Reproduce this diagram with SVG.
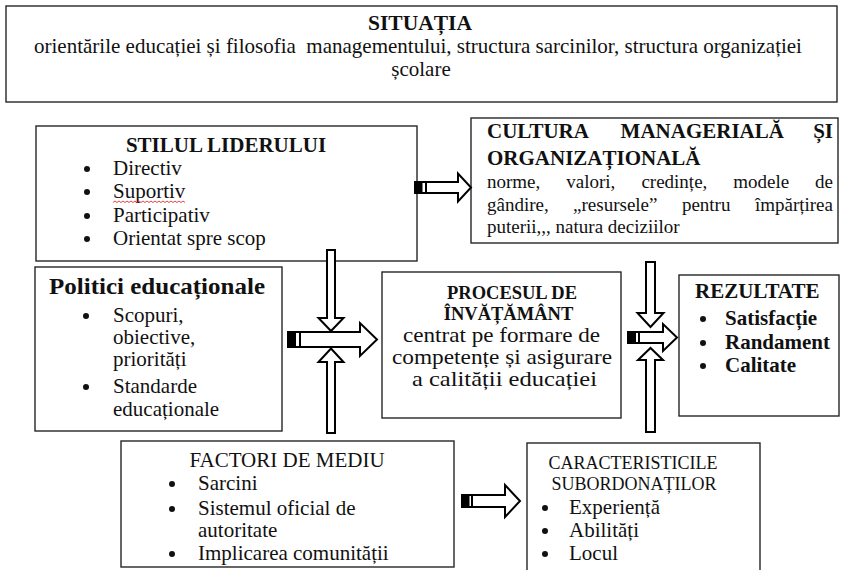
<svg xmlns="http://www.w3.org/2000/svg" width="844" height="570" viewBox="0 0 844 570">
<style>
.box{fill:#fff;stroke:#262626;stroke-width:1.4}
.arr{fill:#fff;stroke:#000;stroke-width:2;stroke-linejoin:miter}
.blk{fill:#000}
text{font-family:"Liberation Serif","Times New Roman",serif;fill:#111}
.b{font-weight:bold}
.s21{font-size:21px}
.s19{font-size:19px}
.c{text-anchor:middle}
.e{text-anchor:end}
.dot{fill:#111}
</style>
<rect width="844" height="570" fill="#fff"/>

<g id="situatia">
<rect class="box" x="6" y="6" width="831" height="96"/>
<text class="b c" x="420" y="30" style="font-size:21.5px">SITUAȚIA</text>
<text class="c s21" x="418" y="53" xml:space="preserve">orientările educației și filosofia  managementului, structura sarcinilor, structura organizației</text>
<text class="c s21" x="421" y="76">școlare</text>
</g>

<g id="stilul-liderului">
<rect class="box" x="36" y="126" width="381" height="135"/>
<text class="b c s21" x="226" y="152">STILUL LIDERULUI</text>
<circle class="dot" cx="87" cy="169" r="3"/>
<text class="s21" x="113" y="175">Directiv</text>
<circle class="dot" cx="87" cy="192" r="3"/>
<text class="s21" x="113" y="198">Suportiv</text>
<path d="M113,202.5 l2,-1.5 l2,1.5 l2,-1.5 l2,1.5 l2,-1.5 l2,1.5 l2,-1.5 l2,1.5 l2,-1.5 l2,1.5 l2,-1.5 l2,1.5 l2,-1.5 l2,1.5 l2,-1.5 l2,1.5 l2,-1.5 l2,1.5 l2,-1.5 l2,1.5 l2,-1.5 l2,1.5 l2,-1.5 l2,1.5 l2,-1.5 l2,1.5 l2,-1.5 l2,1.5 l2,-1.5 l2,1.5 l2,-1.5 l2,1.5 l2,-1.5 l2,1.5 l2,-1.5 l2,1.5" fill="none" stroke="#e03030" stroke-width="0.9"/>
<circle class="dot" cx="87" cy="216" r="3"/>
<text class="s21" x="113" y="222">Participativ</text>
<circle class="dot" cx="87" cy="239" r="3"/>
<text class="s21" x="113" y="245">Orientat spre scop</text>
</g>

<g id="cultura">
<rect class="box" x="471" y="118" width="367" height="125"/>
<text class="b s21" x="487" y="138">CULTURA</text>
<text class="b s21" x="620.6" y="138">MANAGERIALĂ</text>
<text class="b s21 e" x="833" y="138">ȘI</text>
<text class="b s21" x="487" y="165">ORGANIZAȚIONALĂ</text>
<text class="s19" x="487" y="188">norme,</text>
<text class="s19" x="566.3" y="188">valori,</text>
<text class="s19" x="641.4" y="188">credințe,</text>
<text class="s19" x="733.3" y="188">modele</text>
<text class="s19 e" x="833" y="188">de</text>
<text class="s19" x="487" y="211">gândire,</text>
<text class="s19" x="573.1" y="211">„resursele”</text>
<text class="s19" x="681.9" y="211">pentru</text>
<text class="s19 e" x="833" y="211">împărțirea</text>
<text class="s19" x="487" y="233">puterii,,, natura deciziilor</text>
</g>

<g id="politici">
<rect class="box" x="35" y="267" width="247" height="164"/>
<text class="b" x="49" y="294" style="font-size:23px" textLength="216" lengthAdjust="spacingAndGlyphs">Politici educaționale</text>
<circle class="dot" cx="86" cy="316" r="3"/>
<text class="s21" x="113" y="322">Scopuri,</text>
<text class="s21" x="113" y="344">obiective,</text>
<text class="s21" x="113" y="366">priorități</text>
<circle class="dot" cx="86" cy="387" r="3"/>
<text class="s21" x="113" y="393">Standarde</text>
<text class="s21" x="113" y="416">educaționale</text>
</g>

<g id="procesul">
<rect class="box" x="382" y="272" width="239" height="146"/>
<text class="b c" x="512" y="299" style="font-size:18.5px">PROCESUL DE</text>
<text class="b c" x="508.5" y="320" style="font-size:18.5px">ÎNVĂȚĂMÂNT</text>
<text class="c s21" x="501.5" y="342" textLength="197" lengthAdjust="spacingAndGlyphs">centrat pe formare de</text>
<text class="c s21" x="502" y="364" textLength="220" lengthAdjust="spacingAndGlyphs">competențe și asigurare</text>
<text class="c s21" x="504.5" y="386" textLength="185" lengthAdjust="spacingAndGlyphs">a calității educației</text>
</g>

<g id="rezultate">
<rect class="box" x="679" y="275" width="160" height="141"/>
<text class="b s21" x="695" y="298">REZULTATE</text>
<circle class="dot" cx="703" cy="319" r="3"/>
<text class="b s21" x="725" y="325">Satisfacție</text>
<circle class="dot" cx="703" cy="343" r="3"/>
<text class="b s21" x="725" y="349">Randament</text>
<circle class="dot" cx="703" cy="366" r="3"/>
<text class="b s21" x="725" y="372">Calitate</text>
</g>

<g id="factori-de-mediu">
<rect class="box" x="121" y="441" width="333" height="126"/>
<text class="c s21" x="287" y="467">FACTORI DE MEDIU</text>
<circle class="dot" cx="172" cy="484" r="3"/>
<text class="s21" x="198" y="490">Sarcini</text>
<circle class="dot" cx="172" cy="509" r="3"/>
<text class="s21" x="198" y="515">Sistemul oficial de</text>
<text class="s21" x="198" y="537">autoritate</text>
<circle class="dot" cx="172" cy="554" r="3"/>
<text class="s21" x="198" y="560">Implicarea comunității</text>
</g>

<g id="caracteristicile">
<rect class="box" x="527" y="443" width="233" height="140"/>
<text class="c" x="633" y="469" style="font-size:18px">CARACTERISTICILE</text>
<text class="c" x="634" y="490" style="font-size:18px">SUBORDONAȚILOR</text>
<circle class="dot" cx="545" cy="508" r="3"/>
<text class="s21" x="569" y="514">Experiență</text>
<circle class="dot" cx="545" cy="531" r="3"/>
<text class="s21" x="569" y="537">Abilități</text>
<circle class="dot" cx="545" cy="554" r="3"/>
<text class="s21" x="569" y="560">Locul</text>
</g>

<g id="connectors">
<rect class="arr" x="415" y="182" width="11" height="11"/>
<rect class="blk" x="415" y="182" width="7.5" height="11"/>
<path class="arr" d="M426,182 H458 V173.5 L471,187.5 L458,201.5 V193 H426 Z"/>

<path class="arr" d="M327,250 H335 V318 H343.5 L331,331 L318.5,318 H327 Z"/>
<rect class="arr" x="288" y="332" width="12" height="15"/>
<rect class="blk" x="288" y="332" width="8" height="15"/>
<path class="arr" d="M300,332 H360 V323 L377,339.5 L360,356 V347 H300 Z"/>
<path class="arr" d="M327,433 V362 H318.5 L331,348.5 L343.5,362 H335 V433 Z"/>

<path class="arr" d="M646,262 H655 V313 H663.5 L650.5,327 L637.5,313 H646 Z"/>
<rect class="arr" x="628" y="332" width="11" height="11"/>
<rect class="blk" x="628" y="332" width="8" height="11"/>
<path class="arr" d="M639,332 H663 V324 L677,337.5 L663,351 V343 H639 Z"/>
<path class="arr" d="M646,432 V360 H638 L650.5,348 L663,360 H655 V432 Z"/>

<rect class="arr" x="462" y="495" width="10" height="12"/>
<rect class="blk" x="462" y="495" width="7.5" height="12"/>
<path class="arr" d="M472,495 H505 V485 L520,501 L505,517 V507 H472 Z"/>
</g>
</svg>
